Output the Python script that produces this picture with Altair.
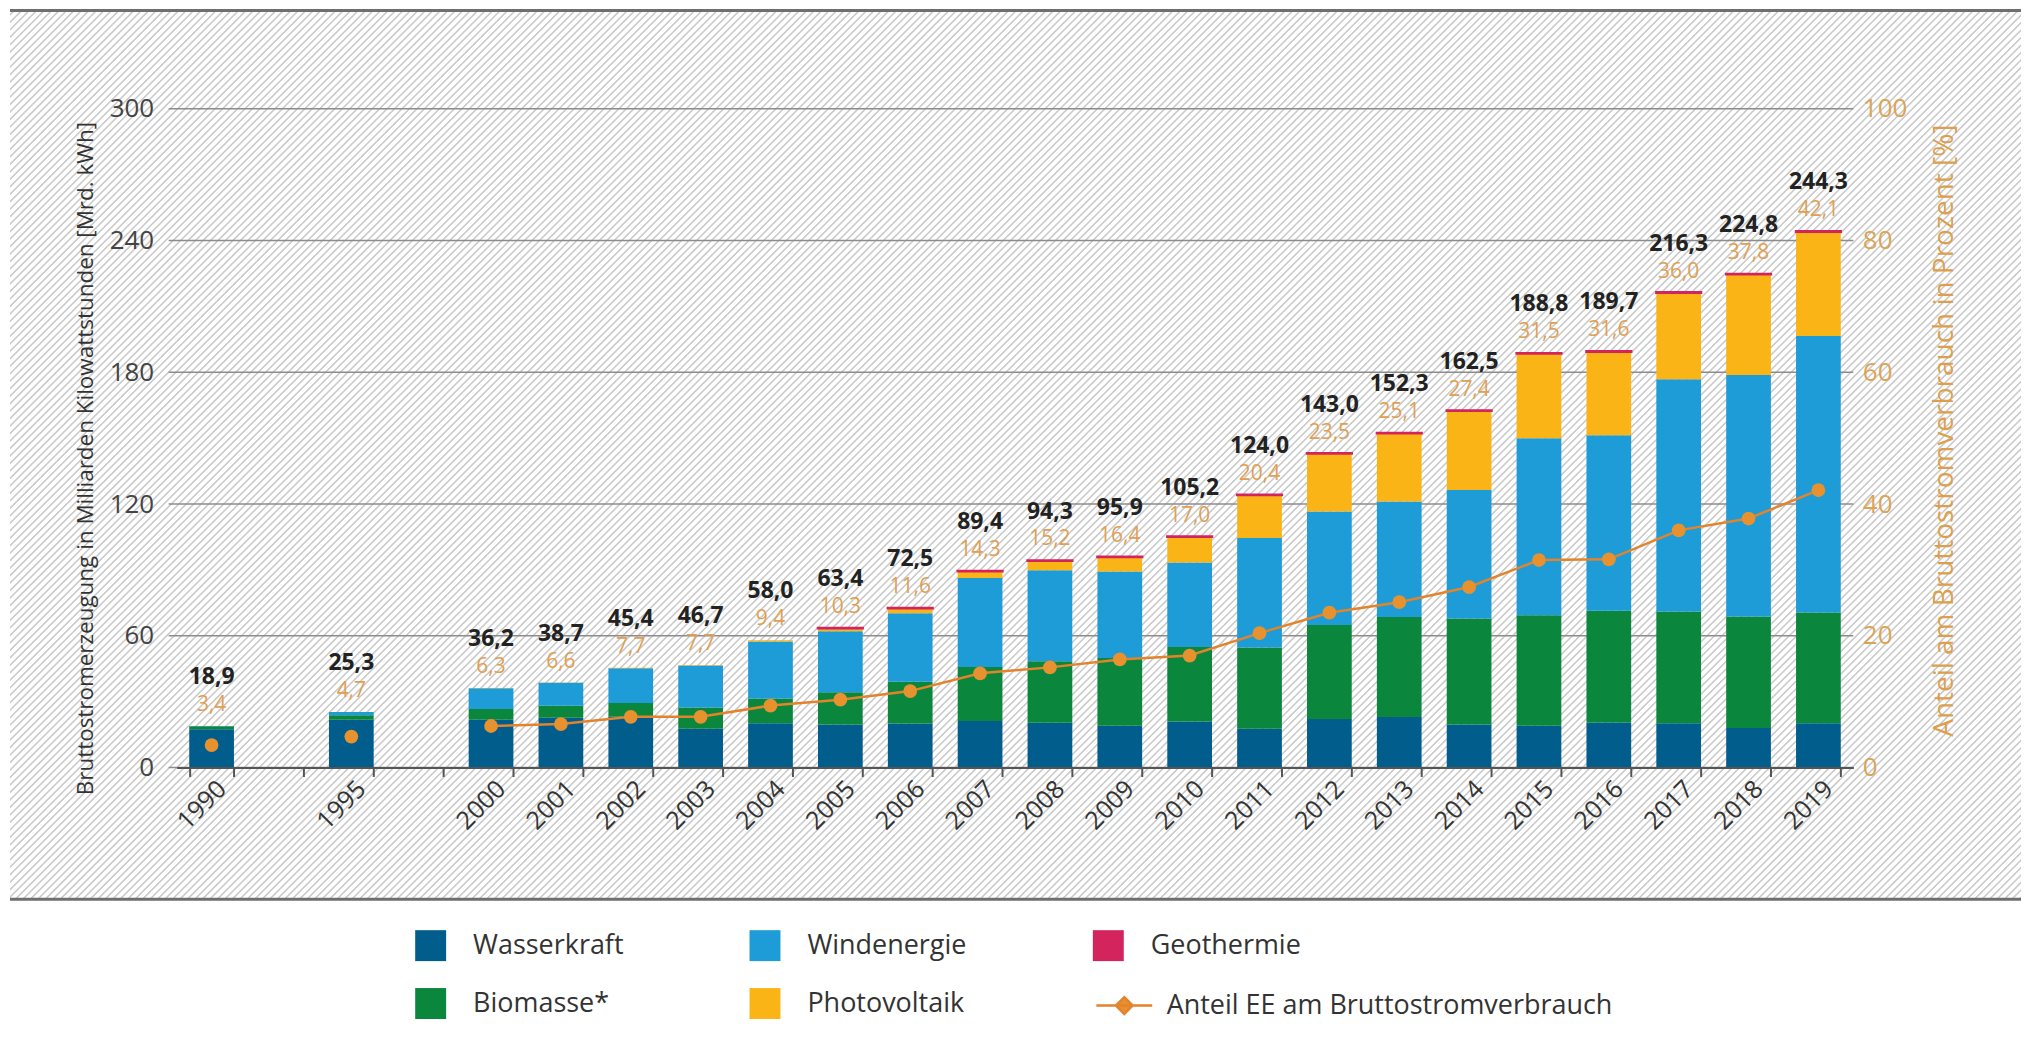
import altair as alt
import pandas as pd

# ---------------- data ----------------
years = ["1990", "1995", "2000", "2001", "2002", "2003", "2004", "2005", "2006", "2007",
         "2008", "2009", "2010", "2011", "2012", "2013", "2014", "2015", "2016", "2017",
         "2018", "2019"]
x_domain = ["1990", "_gap1", "1995", "_gap2"] + years[2:]

wasserkraft = [17.4, 21.8, 21.7, 22.7, 23.1, 17.7, 20.1, 19.6, 20.0, 21.2, 20.4, 19.0,
               21.0, 17.7, 22.1, 23.0, 19.6, 19.0, 20.5, 20.2, 18.0, 20.2]
biomasse = [1.4, 2.0, 4.9, 5.4, 6.3, 9.6, 11.3, 14.7, 19.0, 24.6, 28.0, 30.9,
            33.9, 36.9, 42.8, 45.5, 48.3, 50.3, 50.9, 50.9, 50.8, 50.4]
windenergie = [0.1, 1.5, 9.5, 10.5, 15.8, 19.1, 26.0, 27.8, 31.3, 40.5, 41.4, 39.4,
               38.5, 49.9, 51.7, 52.7, 58.5, 80.6, 79.9, 105.7, 110.0, 125.9]
photovoltaik = [0.0, 0.0, 0.1, 0.1, 0.2, 0.3, 0.6, 1.3, 2.2, 3.1, 4.4, 6.6,
                11.7, 19.6, 26.4, 31.0, 36.1, 38.7, 38.1, 39.4, 45.8, 47.5]
geothermie = [0.0, 0.0, 0.0, 0.0, 0.0, 0.0, 0.0, 0.1, 0.1, 0.1, 0.1, 0.1,
              0.1, 0.1, 0.1, 0.1, 0.1, 0.1, 0.2, 0.2, 0.2, 0.2]
totals = [18.9, 25.3, 36.2, 38.7, 45.4, 46.7, 58.0, 63.4, 72.5, 89.4, 94.3, 95.9,
          105.2, 124.0, 143.0, 152.3, 162.5, 188.8, 189.7, 216.3, 224.8, 244.3]
anteil = [3.4, 4.7, 6.3, 6.6, 7.7, 7.7, 9.4, 10.3, 11.6, 14.3, 15.2, 16.4,
          17.0, 20.4, 23.5, 25.1, 27.4, 31.5, 31.6, 36.0, 37.8, 42.1]

sources = ["Wasserkraft", "Biomasse*", "Windenergie", "Photovoltaik", "Geothermie"]
series_values = [wasserkraft, biomasse, windenergie, photovoltaik, geothermie]
source_colors = ["#005d8c", "#0b873d", "#1d9cd8", "#fbb416", "#d3245e"]
line_name = "Anteil EE am Bruttostromverbrauch"
left_ticks = [0, 60, 120, 180, 240, 300]
right_ticks = [0, 20, 40, 60, 80, 100]

rows = []
for k, (src, vals) in enumerate(zip(sources, series_values)):
    for y, v in zip(years, vals):
        if v > 0:
            rows.append({"year": y, "source": src, "value": v, "ord": k})
df_long = pd.DataFrame(rows)

df_year = pd.DataFrame({
    "year": years,
    "total": totals,
    "anteil": anteil,
    "total_label": [f"{v:.1f}".replace(".", ",") for v in totals],
    "anteil_label": [f"{v:.1f}".replace(".", ",") for v in anteil],
})
df_year["series"] = line_name
df_line = df_year[df_year["year"].astype(int) >= 2000]

# ---------------- style ----------------
FONT = "Open Sans"
W, H = 1680, 660
BG_X0, BG_X1, BG_Y0, BG_Y1 = -167, 1848, -100, 792

bw, bh = BG_X1 - BG_X0, BG_Y1 - BG_Y0
r = bh / bw
s = (bw + bh) / (bw * (1 + r * r))
period = 7.5
n = int(round((bw + bh) / period))
stops = []
for i in range(n):
    stops += [
        alt.GradientStop(color="#ffffff", offset=i / n),
        alt.GradientStop(color="#ffffff", offset=(i + 0.55) / n),
        alt.GradientStop(color="#cbcbcb", offset=(i + 0.7) / n),
        alt.GradientStop(color="#cbcbcb", offset=(i + 0.85) / n),
    ]
stops.append(alt.GradientStop(color="#ffffff", offset=1.0))
hatch = alt.LinearGradient(gradient="linear", stops=stops, x1=0, y1=0, x2=s, y2=s * r)

one = pd.DataFrame({"k": [0]})
bg = alt.Chart(one).mark_rect(fill=hatch).encode(
    x=alt.value(BG_X0), x2=alt.value(BG_X1), y=alt.value(BG_Y0), y2=alt.value(BG_Y1))
top_rule = alt.Chart(one).mark_rule(color="#6f6f6f", strokeWidth=3).encode(
    x=alt.value(BG_X0), x2=alt.value(BG_X1), y=alt.value(BG_Y0 + 1.5))
bottom_rule = alt.Chart(one).mark_rule(color="#6f6f6f", strokeWidth=3).encode(
    x=alt.value(BG_X0), x2=alt.value(BG_X1), y=alt.value(BG_Y1))

xscale = alt.Scale(domain=x_domain, paddingInner=0.36, paddingOuter=0.18)
yscale = alt.Scale(domain=[0, 300], nice=False)
pscale = alt.Scale(domain=[0, 100], nice=False)

x_axis = alt.Axis(
    orient="bottom", labelExpr="indexof(datum.label, '_') == 0 ? '' : datum.label",
    labelAngle=-45, labelAlign="right", labelBaseline="middle", labelFontSize=25,
    labelColor="#333333", labelPadding=8, labelOffset=10, domainColor="#555555", domainWidth=2,
    tickColor="#555555", tickWidth=2, tickSize=9, tickBand="extent", grid=False, zindex=2)
y_title = "Bruttostromerzeugung in Milliarden Kilowattstunden [Mrd. kWh]"
y_axis = alt.Axis(orient="left", values=left_ticks, grid=False, domain=False, ticks=False,
                  labelFontSize=26, labelColor="#444444", labelPadding=23,
                  titleFontSize=22.5, titleColor="#333333", titleFontWeight="normal",
                  titlePadding=12, titleY=350, zindex=2)
p_title = "Anteil am Bruttostromverbrauch in Prozent [%]"
p_axis = alt.Axis(orient="right", values=right_ticks, grid=False, domain=False, ticks=False,
                  labelFontSize=26, labelColor="#dca457", labelPadding=9,
                  titleFontSize=28, titleColor="#dd9f4d", titleFontWeight="normal",
                  titleAngle=270, titlePadding=52, titleY=322, zindex=2)


def xenc():
    return alt.X("year:N", scale=xscale, axis=x_axis, title=None)


def yenc(field, **kw):
    return alt.Y(field, scale=yscale, axis=y_axis, title=y_title, **kw)


def penc(field):
    return alt.Y(field, scale=pscale, axis=p_axis, title=p_title)


grid = alt.Chart(pd.DataFrame({"g": left_ticks})).mark_rule(color="#8c8c8c", strokeWidth=1.5).encode(
    y=yenc("g:Q"), x=alt.value(-8), x2=alt.value(W))

bars = alt.Chart(df_long).mark_bar().encode(
    x=xenc(),
    y=yenc("value:Q", stack="zero"),
    fill=alt.Fill("source:N", scale=alt.Scale(domain=sources, range=source_colors),
                  legend=alt.Legend(orient="none", legendX=239, legendY=823, columns=3, title=None,
                                    symbolType="square", symbolSize=961, symbolStrokeWidth=0,
                                    labelFontSize=27, labelColor="#333333", labelOffset=27,
                                    columnPadding=126, rowPadding=27, padding=0, labelLimit=500)),
    order=alt.Order("ord:Q", sort="ascending"),
    stroke=alt.condition(alt.datum.source == "Geothermie", alt.value("#d3245e"), alt.value("transparent")),
    strokeWidth=alt.condition(alt.datum.source == "Geothermie", alt.value(2.5), alt.value(0)),
)

tot_text = alt.Chart(df_year).mark_text(fontSize=23, fontWeight="bold", color="#222222",
                                        dy=-49, baseline="middle").encode(
    x=xenc(), y=yenc("total:Q"), text="total_label:N")
pct_text = alt.Chart(df_year).mark_text(fontSize=21, color="#e0a054", dy=-21, baseline="middle").encode(
    x=xenc(), y=yenc("total:Q"), text="anteil_label:N")

left = alt.layer(grid, bars, tot_text, pct_text)

line = alt.Chart(df_line).mark_line(strokeWidth=2.5).encode(
    x=xenc(),
    y=penc("anteil:Q"),
    stroke=alt.Stroke("series:N", scale=alt.Scale(domain=[line_name], range=["#e3832b"]),
                      legend=alt.Legend(orient="none", legendX=920, legendY=869, title=None,
                                        symbolType="M-1,0H1M0,-0.3L0.3,0L0,0.3L-0.3,0Z",
                                        symbolSize=3136, symbolStrokeWidth=2.5,
                                        symbolFillColor="#e8902f", symbolStrokeColor="#e3832b",
                                        labelFontSize=27, labelColor="#333333", labelOffset=13,
                                        padding=0, labelLimit=700)),
)
points = alt.Chart(df_year).mark_circle(size=190, color="#e8922f", opacity=1).encode(
    x=xenc(), y=penc("anteil:Q"))

right = alt.layer(line, points)

chart = alt.layer(bg, top_rule, bottom_rule, left, right).resolve_scale(y="independent").properties(
    width=W, height=H, padding=0, background="#ffffff"
).configure(font=FONT).configure_view(stroke=None)

chart.save("out.html", embed_options={"renderer": "svg", "actions": False})
